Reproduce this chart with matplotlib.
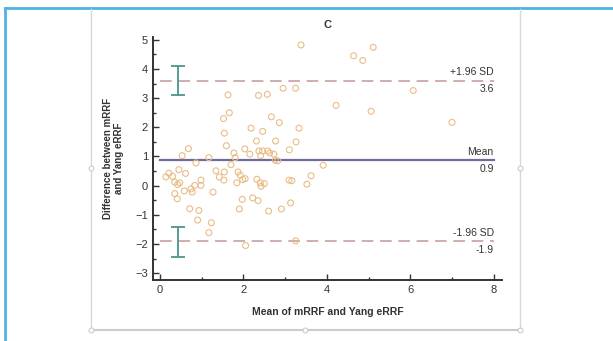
import numpy as np
import matplotlib.pyplot as plt
from matplotlib.lines import Line2D

plt.rcParams['font.family'] = ['Liberation Sans', 'DejaVu Sans']

# Bland-Altman data
mean_vals = [3.38, 4.64, 4.86, 5.11, 2.95, 3.25, 2.36, 2.57, 1.63, 6.07, 4.22, 5.06, 7.0,
             1.66, 1.52, 2.67, 2.86, 2.18, 3.33, 1.54, 2.46, 2.77, 2.31, 3.26, 1.59, 2.03,
             3.10, 0.68, 1.77, 2.37, 2.46, 2.58, 2.63, 2.73, 2.15, 0.53, 1.17, 1.80, 2.41,
             2.76, 2.82, 0.86, 1.70, 3.91, 1.34, 1.54, 0.45, 0.61, 0.21, 0.30, 0.14, 1.87,
             1.92, 1.42, 1.53, 1.84, 1.98, 2.04, 2.32, 2.40, 2.50, 3.09, 3.16, 3.62, 3.52,
             0.35, 0.42, 0.47, 0.58, 0.74, 0.83, 0.98, 0.98, 0.77, 1.27, 0.35, 0.41, 2.42,
             1.97, 2.22, 2.35, 1.90, 2.60, 2.91, 3.13, 0.71, 0.93, 0.90, 1.23, 1.17, 2.05, 3.25]
diff_vals = [4.82, 4.45, 4.29, 4.74, 3.34, 3.34, 3.09, 3.13, 3.11, 3.26, 2.75, 2.55, 2.17,
             2.50, 2.30, 2.36, 2.16, 1.97, 1.97, 1.80, 1.86, 1.53, 1.53, 1.50, 1.37, 1.26,
             1.23, 1.27, 1.12, 1.19, 1.19, 1.19, 1.12, 1.08, 1.08, 1.03, 0.96, 0.96, 1.03,
             0.87, 0.85, 0.78, 0.72, 0.70, 0.51, 0.47, 0.55, 0.42, 0.43, 0.32, 0.30, 0.47,
             0.36, 0.30, 0.19, 0.10, 0.21, 0.24, 0.22, 0.10, 0.07, 0.19, 0.17, 0.34, 0.05,
             0.12, 0.04, 0.10, -0.18, -0.11, 0.01, 0.19, 0.01, -0.22, -0.22, -0.27, -0.45, -0.02,
             -0.47, -0.42, -0.51, -0.80, -0.87, -0.80, -0.59, -0.79, -0.85, -1.18, -1.27, -1.61, -2.05, -1.89]

mean_diff = 0.87
upper_loa = 3.6
lower_loa = -1.9
ci_x = 0.44
upper_ci = [3.11, 4.11]
lower_ci = [-2.43, -1.41]

fig = plt.figure(figsize=(6.13, 3.41), dpi=100)

# screenshot frame: blue border and grey image box with handles
fig.add_artist(Line2D([5.5/613, 1], [1-7.5/341, 1-7.5/341], color='#4fb3e6', lw=2))
fig.add_artist(Line2D([5.5/613, 5.5/613], [0, 1-7.5/341], color='#4fb3e6', lw=2))
box_l, box_r, box_b = 90.5/613, 520/613, 1-330/341
fig.add_artist(Line2D([box_l, box_l], [box_b, 1-9/341], color='#d8d8d8', lw=1))
fig.add_artist(Line2D([box_r, box_r], [box_b, 1-9/341], color='#d8d8d8', lw=1))
fig.add_artist(Line2D([box_l, box_r], [box_b, box_b], color='#cccccc', lw=1.5))
for hx, hy in [(box_l, box_b), ((box_l+box_r)/2, box_b), (box_r, box_b),
               (box_l, 1-168/341), (box_r, 1-168/341)]:
    fig.add_artist(Line2D([hx], [hy], marker='o', ms=3.5, mfc='white', mec='#cccccc', mew=0.8))

ax = fig.add_axes([0.2496, 0.179, 0.819-0.2496, 0.892-0.179])

ax.scatter(mean_vals, diff_vals, s=18, facecolors='none', edgecolors='#e9bd86', linewidths=0.8, zorder=3)

ax.plot([0, 8], [mean_diff, mean_diff], color='#6f6c9c', lw=1.6)
ax.plot([0, 8], [upper_loa, upper_loa], color='#c9a0a0', lw=1.2, dashes=(7, 4))
ax.plot([0, 8], [lower_loa, lower_loa], color='#c9a0a0', lw=1.2, dashes=(7, 4))

for lo, hi in [upper_ci, lower_ci]:
    ax.errorbar([ci_x], [(lo+hi)/2], yerr=[[(hi-lo)/2], [(hi-lo)/2]], fmt='none',
                ecolor='#4a968c', elinewidth=1.3, capsize=5, capthick=1.3)

tcol = '#333333'
ax.text(8, upper_loa+0.12, '+1.96 SD', ha='right', va='bottom', fontsize=7.5, color=tcol)
ax.text(8, upper_loa-0.12, '3.6', ha='right', va='top', fontsize=7.5, color=tcol)
ax.text(8, mean_diff+0.12, 'Mean', ha='right', va='bottom', fontsize=7.5, color=tcol)
ax.text(8, mean_diff-0.12, '0.9', ha='right', va='top', fontsize=7.5, color=tcol)
ax.text(8, lower_loa+0.12, '-1.96 SD', ha='right', va='bottom', fontsize=7.5, color=tcol)
ax.text(8, lower_loa-0.12, '-1.9', ha='right', va='top', fontsize=7.5, color=tcol)

ax.set_xlim(-0.17, 8.2)
ax.set_ylim(-3.23, 5.1)
ax.set_xticks([0, 2, 4, 6, 8])
ax.set_xticks([1, 3, 5, 7], minor=True)
ax.set_yticks(np.arange(-3, 6, 1))
ax.set_yticks(np.arange(-2.5, 5, 1), minor=True)
ax.tick_params(which='both', direction='in', colors='#333333', labelsize=8, width=1)
ax.tick_params(which='major', length=4)
ax.tick_params(which='minor', length=2.5)
for s in ['top', 'right']:
    ax.spines[s].set_visible(False)
for s in ['left', 'bottom']:
    ax.spines[s].set_color('#333333')
    ax.spines[s].set_linewidth(1.4)

ax.set_xlabel('Mean of mRRF and Yang eRRF', fontsize=7.5, fontweight='bold', color='#333333', labelpad=9)
ax.set_ylabel('Difference between mRRF\nand Yang eRRF', fontsize=7, fontweight='bold', color='#333333', labelpad=8)
ax.set_title('C', fontsize=8, fontweight='bold', color='#333333', pad=6)

fig.savefig('out.png', dpi=100)
